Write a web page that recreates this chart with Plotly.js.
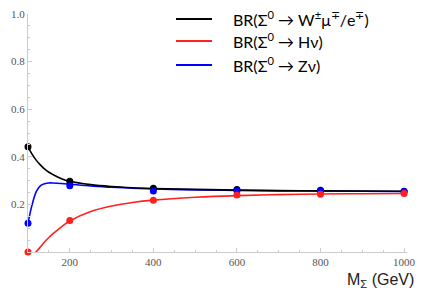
<!DOCTYPE html>
<html>
<head>
<meta charset="utf-8">
<script src="https://cdn.plot.ly/plotly-3.0.1.min.js"></script>
<style>html,body{margin:0;padding:0;background:#fff}#plot{width:436px;height:307px}</style>
</head>
<body>
<div id="plot"></div>
<script>
// Marker points
var massPoints = [100, 200, 400, 600, 800, 1000];
var brW = [0.442, 0.297, 0.268, 0.263, 0.259, 0.255];
var brH = [0.0, 0.132, 0.217, 0.240, 0.243, 0.246];
var brZ = [0.121, 0.278, 0.256, 0.257, 0.256, 0.254];

// Curves
var massCurve = [100, 110, 120, 130, 140, 150, 160, 180, 200, 250, 300, 350, 400, 500, 600, 700, 800, 900, 1000];
var curveW = [0.442, 0.410, 0.385, 0.365, 0.348, 0.335, 0.325, 0.308, 0.297, 0.283, 0.275, 0.270, 0.267, 0.263, 0.260, 0.258, 0.257, 0.256, 0.255];
var curveZ = [0.121, 0.200, 0.255, 0.279, 0.287, 0.290, 0.290, 0.288, 0.285, 0.277, 0.272, 0.268, 0.265, 0.261, 0.259, 0.257, 0.256, 0.255, 0.254];
var curveH = [-0.030, -0.012, 0.002, 0.022, 0.043, 0.061, 0.077, 0.106, 0.130, 0.170, 0.193, 0.208, 0.218, 0.230, 0.237, 0.241, 0.244, 0.245, 0.246];

var legendLabels = [
  'BR(Σ<sup>0</sup> → W<sup>±</sup>μ<sup>∓</sup>/e<sup>∓</sup>)',
  'BR(Σ<sup>0</sup> → Hν)',
  'BR(Σ<sup>0</sup> → Zν)'
];
var colors = ['#000000', '#ff2020', '#0000ff'];

var xTickVals = [200, 400, 600, 800, 1000];
var yTickVals = [0.2, 0.4, 0.6, 0.8, 1.0];
var yTickText = ['0.2', '0.4', '0.6', '0.8', '1.0'];

function lineTrace(y, c) {
  return {x: massCurve, y: y, mode: 'lines', line: {color: c, width: 1.6, shape: 'spline', smoothing: 1},
          showlegend: false, hoverinfo: 'skip'};
}
function markTrace(y, c) {
  return {x: massPoints, y: y, mode: 'markers', marker: {color: c, size: 7},
          cliponaxis: false, showlegend: false, hoverinfo: 'skip'};
}

var data = [
  lineTrace(curveH, colors[1]),
  lineTrace(curveZ, colors[2]),
  lineTrace(curveW, colors[0]),
  markTrace(brW, colors[0]),
  markTrace(brZ, colors[2]),
  markTrace(brH, colors[1])
];

// legend placement (paper coordinates)
var legY = [0.979, 0.887, 0.786];
var shapes = [], annotations = [];
for (var i = 0; i < 3; i++) {
  shapes.push({type: 'line', xref: 'paper', yref: 'paper', x0: 0.3905, x1: 0.4855, y0: legY[i], y1: legY[i],
               line: {color: colors[i], width: 2}});
  annotations.push({xref: 'paper', yref: 'paper', x: 0.536, y: legY[i], xanchor: 'left', yanchor: 'middle',
                    text: legendLabels[i], showarrow: false,
                    font: {family: 'Lato, sans-serif', size: 16, color: '#000'}});
}
annotations.push({xref: 'paper', yref: 'paper', x: 0.929, y: -0.118, xanchor: 'center', yanchor: 'middle',
                  text: 'M<sub>Σ</sub> (GeV)', showarrow: false,
                  font: {family: 'Liberation Sans, Arial, sans-serif', size: 16, color: '#222'}});

var axisFont = {family: 'Liberation Serif', size: 11, color: '#555'};

var layout = {
  width: 436, height: 307,
  margin: {l: 28, r: 29, t: 14, b: 55, pad: 0},
  paper_bgcolor: '#fff', plot_bgcolor: '#fff',
  showlegend: false,
  xaxis: {
    range: [100, 1007], showgrid: false, zeroline: false,
    showline: true, linecolor: '#cccccc', linewidth: 1,
    tickmode: 'array', tickvals: xTickVals, ticks: 'inside', ticklen: 4, tickcolor: '#cccccc',
    minor: {tickmode: 'linear', tick0: 100, dtick: 50, ticks: 'inside', ticklen: 2, tickcolor: '#cccccc', showgrid: false},
    tickfont: axisFont, fixedrange: true
  },
  yaxis: {
    range: [0, 1.0], showgrid: false, zeroline: false,
    showline: true, linecolor: '#cccccc', linewidth: 1,
    tickmode: 'array', tickvals: yTickVals, ticktext: yTickText, ticks: 'inside', ticklen: 4, tickcolor: '#cccccc',
    minor: {tickmode: 'linear', tick0: 0, dtick: 0.05, ticks: 'inside', ticklen: 2, tickcolor: '#cccccc', showgrid: false},
    tickfont: axisFont, fixedrange: true
  },
  shapes: shapes,
  annotations: annotations
};

Plotly.newPlot('plot', data, layout, {staticPlot: true, displayModeBar: false});
</script>
</body>
</html>
